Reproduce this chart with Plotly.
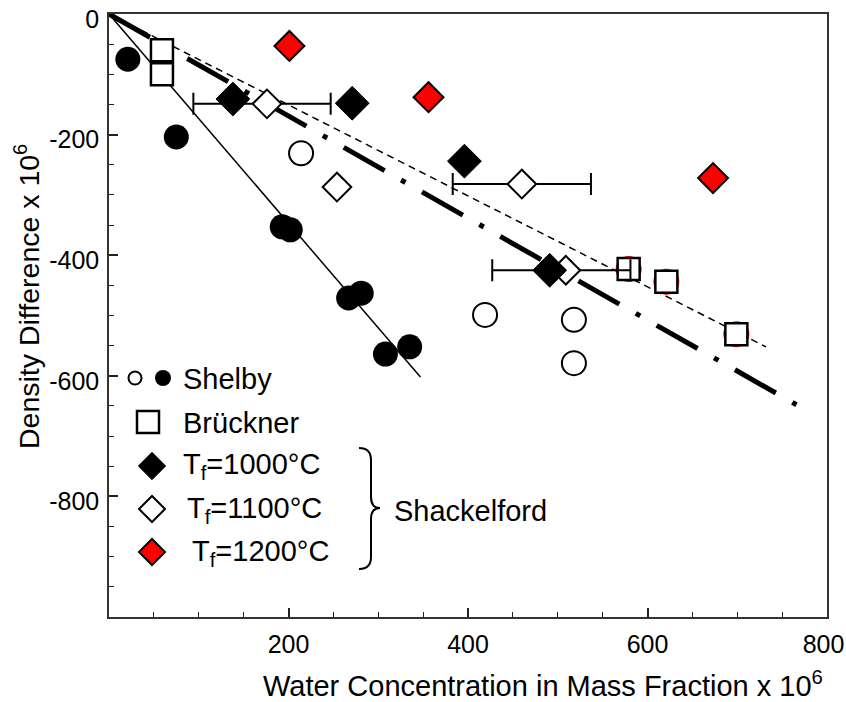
import plotly.graph_objects as go

# ---------------- data ----------------
shelby_filled_x = [21, 75, 193, 202, 267, 281, 308, 335]
shelby_filled_y = [-75, -204, -353, -358, -471, -463, -564, -552]

shelby_open_x = [214, 419, 518, 518]
shelby_open_y = [-231, -499, -507, -579]

bruckner_x = [59, 59, 579, 621, 699]
bruckner_y = [-60, -100, -423, -444, -531]

# faint red markers hidden behind the last three Brückner squares
hidden_red_x = [579, 621, 699]
hidden_red_y = [-423, -444, -531]

tf1000_x = [138, 271, 396, 491]
tf1000_y = [-141, -148, -244, -425]

tf1100_x = [176, 254, 460, 509]
tf1100_y = [-149, -287, -282, -425]
tf1100_err_plus = [71, None, 77, 72]
tf1100_err_minus = [82, None, 77, 82]

tf1200_x = [201, 356, 673]
tf1200_y = [-53, -138, -272]

fit_shelby_x = [0, 347]
fit_shelby_y = [0, -602]
fit_dashed_x = [0, 732]
fit_dashed_y = [0, -552]
fit_dashdot_x = [0, 766]
fit_dashdot_y = [0, -648]

x_tickvals = [200, 400, 600, 800]
x_ticktext = ["200", "400", "600", "800\u00a0"]
y_tickvals = [0, -200, -400, -600, -800]
y_ticktext = ["0", "-200", "-400", "-600", "-800"]
x_range = [0, 800]
y_range = [-1000, 0]

# ---------------- layout geometry (pixels) ----------------
W, H = 846, 702
L, R, T, B = 109, 827, 14, 617
FONT = "Liberation Sans, Arial, sans-serif"


def px2paper(px, py):
    return (px - L) / (R - L), (B - py) / (B - T)


def px2data(px, py):
    x = x_range[0] + (px - L) / (R - L) * (x_range[1] - x_range[0])
    y = y_range[0] + (B - py) / (B - T) * (y_range[1] - y_range[0])
    return x, y


fig = go.Figure()

# fit lines
fig.add_trace(go.Scatter(x=fit_shelby_x, y=fit_shelby_y, mode="lines",
                         line=dict(color="black", width=1.5)))
fig.add_trace(go.Scatter(x=fit_dashed_x, y=fit_dashed_y, mode="lines",
                         line=dict(color="black", width=1.5, dash="7px,5px")))
fig.add_trace(go.Scatter(x=fit_dashdot_x, y=fit_dashdot_y, mode="lines",
                         line=dict(color="black", width=5, dash="47px,19px,5px,19px")))

# hidden red markers
fig.add_trace(go.Scatter(x=hidden_red_x, y=hidden_red_y, mode="markers",
                         marker=dict(symbol="circle", size=26, color="red",
                                     line=dict(width=0))))
# Shelby
fig.add_trace(go.Scatter(x=shelby_filled_x, y=shelby_filled_y, mode="markers",
                         marker=dict(symbol="circle", size=25, color="black",
                                     line=dict(width=0))))
fig.add_trace(go.Scatter(x=shelby_open_x, y=shelby_open_y, mode="markers",
                         marker=dict(symbol="circle", size=24, color="white",
                                     line=dict(width=2, color="black"))))
# Brückner
fig.add_trace(go.Scatter(x=bruckner_x, y=bruckner_y, mode="markers",
                         marker=dict(symbol="square", size=22, color="white",
                                     line=dict(width=2.5, color="black"))))
# Shackelford 1200
fig.add_trace(go.Scatter(x=tf1200_x, y=tf1200_y, mode="markers",
                         marker=dict(symbol="diamond", size=23, color="red",
                                     line=dict(width=2, color="black"))))
# Shackelford 1100 with error bars
fig.add_trace(go.Scatter(x=tf1100_x, y=tf1100_y, mode="markers",
                         marker=dict(symbol="diamond", size=22, color="white",
                                     line=dict(width=2, color="black")),
                         error_x=dict(type="data", symmetric=False,
                                      array=tf1100_err_plus,
                                      arrayminus=tf1100_err_minus,
                                      color="black", thickness=2, width=11)))
# Shackelford 1000
fig.add_trace(go.Scatter(x=tf1000_x, y=tf1000_y, mode="markers",
                         marker=dict(symbol="diamond", size=26, color="black",
                                     line=dict(width=1, color="black"))))

# ---------------- hand-drawn legend ----------------
def glyph(px, py, **marker):
    x, y = px2data(px, py)
    fig.add_trace(go.Scatter(x=[x], y=[y], mode="markers", marker=marker,
                             hoverinfo="skip"))


glyph(135, 378, symbol="circle", size=13, color="white", line=dict(width=2, color="black"))
glyph(163, 378, symbol="circle", size=16, color="black", line=dict(width=0))
glyph(148, 422, symbol="square", size=22, color="white", line=dict(width=2.5, color="black"))
glyph(152, 466, symbol="diamond", size=21, color="black", line=dict(width=1, color="black"))
glyph(152, 509, symbol="diamond", size=20, color="white", line=dict(width=2, color="black"))
glyph(152, 552, symbol="diamond", size=20, color="red", line=dict(width=2, color="black"))

annotations = []


def label(text, px, py, size=29, anchor="left", angle=0):
    xp, yp = px2paper(px, py)
    annotations.append(dict(text=text, x=xp, y=yp, xref="paper", yref="paper",
                            xanchor=anchor, yanchor="middle", showarrow=False,
                            textangle=angle,
                            font=dict(family=FONT, size=size, color="black")))


label("Shelby", 181, 379)
label("Brückner", 181, 423)
label("T<sub>f</sub>=1000°C", 181, 466)
label("T<sub>f</sub>=1100°C", 185, 510)
label("T<sub>f</sub>=1200°C", 190, 553)
label("Shackelford", 392, 511)
label("Water Concentration in Mass Fraction x 10<sup>6</sup>", 543, 684, size=29,
      anchor="center")
label("Density Difference x 10<sup>6</sup>", 27, 297, size=28.5, anchor="center", angle=-90)

# brace
pts = [(359, 448), (371, 448), (371, 460), (371, 497), (380, 508),
       (371, 519), (371, 557), (371, 569), (359, 569)]
pp = [px2paper(*p) for p in pts]
path = (f"M{pp[0][0]},{pp[0][1]} Q{pp[1][0]},{pp[1][1]} {pp[2][0]},{pp[2][1]} "
        f"L{pp[3][0]},{pp[3][1]} Q{pp[3][0]},{pp[4][1]} {pp[4][0]},{pp[4][1]} "
        f"Q{pp[5][0]},{pp[4][1]} {pp[5][0]},{pp[5][1]} "
        f"L{pp[6][0]},{pp[6][1]} Q{pp[7][0]},{pp[7][1]} {pp[8][0]},{pp[8][1]}")
shapes = [dict(type="path", path=path, xref="paper", yref="paper",
               line=dict(color="black", width=2))]

axis_common = dict(showline=True, linecolor="#333333", linewidth=1.5, mirror=True,
                   showgrid=False, zeroline=False, ticks="inside", ticklen=9,
                   tickwidth=2, tickcolor="#222222", ticklabeloverflow="allow",
                   automargin=False,
                   tickfont=dict(family=FONT, size=25, color="black"))

fig.update_layout(
    width=W, height=H,
    margin=dict(l=L, r=W - R, t=T, b=H - B, autoexpand=False),
    paper_bgcolor="white", plot_bgcolor="white",
    showlegend=False,
    annotations=annotations,
    shapes=shapes,
    xaxis=dict(range=x_range, tickmode="array", tickvals=x_tickvals,
               ticktext=x_ticktext, ticklabelstandoff=4,
               minor=dict(tickmode="linear", tick0=0, dtick=50, ticks="inside",
                          ticklen=5, tickwidth=1.2, tickcolor="#222222"),
               **axis_common),
    yaxis=dict(range=y_range, tickmode="array", tickvals=y_tickvals,
               ticktext=y_ticktext, ticklabelstandoff=3, ticklabelshift=5,
               minor=dict(tickmode="linear", tick0=0, dtick=50, ticks="inside",
                          ticklen=5, tickwidth=1.2, tickcolor="#222222"),
               **axis_common),
    yaxis2=dict(range=y_range, overlaying="y", anchor="x", side="left",
                tickmode="array", tickvals=y_tickvals, ticks="outside",
                ticklen=9, tickwidth=2, tickcolor="#222222", automargin=False,
                showticklabels=False, showline=False, showgrid=False,
                zeroline=False),
)

fig.write_html("out.html")
